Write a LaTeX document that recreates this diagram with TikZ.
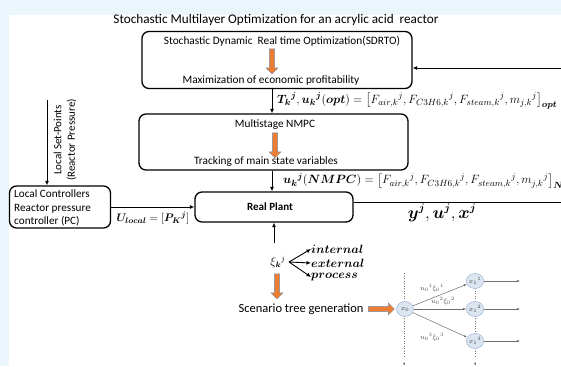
\documentclass[tikz,border=0pt]{standalone}
\usepackage{fontspec}
\setmainfont{Carlito}
\usepackage{amsmath,bm}
\usetikzlibrary{arrows.meta,shapes.arrows,shapes.geometric}
\definecolor{bandblue}{HTML}{EAF6FC}
\definecolor{orangefill}{HTML}{ED7D31}
\definecolor{orangeedge}{HTML}{7590B0}
\definecolor{nodefill}{HTML}{DCE6F1}
\definecolor{nodeedge}{HTML}{A9BDD4}
\definecolor{treegray}{HTML}{707070}
\tikzset{
  rbox/.style={draw, rounded corners=7pt, line width=1.3pt, inner sep=0pt},
  boxtext/.style={font=\fontsize{11.3}{13}\selectfont, inner sep=0pt},
  conn/.style={line width=0.9pt, -{Latex[length=4.5pt,width=4pt]}},
  downarrow/.style={single arrow, rotate=-90, fill=orangefill, draw=orangeedge, line width=0.4pt,
    minimum height=25pt, minimum width=12pt, inner sep=2.2pt, single arrow head extend=3pt},
  rightarrow/.style={single arrow, fill=orangefill, draw=orangeedge, line width=0.4pt,
    minimum height=26pt, minimum width=12pt, inner sep=2.2pt, single arrow head extend=3pt},
  state/.style={ellipse, draw=nodeedge, fill=nodefill, line width=0.6pt, minimum width=17pt,
    minimum height=15pt, inner sep=0pt, font=\fontsize{7.5}{8}\selectfont, text=black!80},
  treeedge/.style={draw=treegray, line width=0.5pt, -{Latex[length=3pt,width=2.5pt]}},
  treedots/.style={draw=treegray, line width=0.5pt, dotted},
  branchlbl/.style={font=\fontsize{7.5}{8}\selectfont, text=black!70, inner sep=0pt},
  mathlbl/.style={font=\fontsize{13}{15}\selectfont, inner sep=0pt},
}
\begin{document}
\begin{tikzpicture}[x=1pt,y=-1pt]
\useasboundingbox (0,0) rectangle (561,366);
\clip (0,0) rectangle (561,366);
\fill[bandblue] (0,0) rectangle (561,366);
\fill[white] (9,15) rectangle (561,366);

% title
\node[font=\fontsize{13.2}{15}\selectfont, inner sep=0pt] (title) at (276,20)
  {Stochastic Multilayer Optimization for an acrylic acid\ \ reactor};

% SDRTO layer
\node[rbox, minimum width=270pt, minimum height=57pt] (sdrto) at (277,60) {};
\node[boxtext] (sdrtoT) at (282,41) {Stochastic Dynamic\ \ Real time Optimization(SDRTO)};
\node[downarrow] (sdrtoA) at (272,60) {};
\node[boxtext] (sdrtoB) at (271,80) {Maximization of economic profitability};
\coordinate (fbIn) at (561,68);
\draw[conn] (fbIn) -- (sdrto.east |- fbIn);

% NMPC layer
\node[rbox, minimum width=269pt, minimum height=56pt] (nmpc) at (273.5,142) {};
\node[boxtext] (nmpcT) at (275,125) {Multistage NMPC};
\node[downarrow] (nmpcA) at (275,144) {};
\node[boxtext] (nmpcB) at (266,162) {Tracking of main state variables};
\draw[conn] (sdrtoA |- sdrto.south) -- (sdrtoA |- nmpc.north);
\node[mathlbl, anchor=west] (optLbl) at (277,101)
  {$\bm{T_k}{}^{\bm j},\bm{u_k}{}^{\bm j}(\bm{opt}) = \big[F_{air,k}{}^{j},F_{C3H6,k}{}^{j},F_{steam,k}{}^{j},m_{j,k}{}^{j}\big]_{\bm{opt}}$};

% plant
\node[rbox, minimum width=158pt, minimum height=30pt] (rp) at (274,207) {};
\node[font=\bfseries\fontsize{11}{13}\selectfont, inner sep=0pt] (rpT) at (270,207) {Real Plant};
\draw[conn] (sdrtoA |- nmpc.south) -- (sdrtoA |- rp.north);
\node[mathlbl, anchor=west] (nmpcLbl) at (283,181)
  {$\bm{u_k}{}^{\bm j}(\bm{NMPC}) = \big[F_{air,k}{}^{j},F_{C3H6,k}{}^{j},F_{steam,k}{}^{j},m_{j,k}{}^{j}\big]_{\bm{NMPC}}$};
\coordinate (fbOut) at (561,202);
\draw[line width=0.9pt] (rp.east |- fbOut) -- (fbOut);
\node[font=\fontsize{16}{18}\selectfont, inner sep=0pt] (yLbl) at (442,213) {$\bm{y^j},\bm{u^j},\bm{x^j}$};

% local controllers
\node[rbox, minimum width=101pt, minimum height=42pt] (lc) at (60,207) {};
\node[font=\fontsize{11.2}{13.5}\selectfont, align=left, anchor=west, inner sep=0pt] (lcT) at (14,208)
  {Local Controllers\\Reactor pressure\\controller (PC)};
\coordinate (spTop) at (47,100);
\draw[conn] (spTop) -- (spTop |- lc.north);
\node[font=\fontsize{11}{13.5}\selectfont, align=center, rotate=90, inner sep=0pt] (spT) at (65,140)
  {Local Set-Points\\(Reactor Pressure)};
\draw[conn] (lc.east) -- (rp.west);
\node[font=\fontsize{11}{13}\selectfont, inner sep=0pt] (uLocal) at (153,218)
  {$\bm{U_{local}} = [\bm{P_K}{}^{\bm j}]$};

% uncertainties
\coordinate (upFoot) at (274,243);
\draw[conn] (upFoot) -- (upFoot |- rp.south);
\node[font=\fontsize{12}{14}\selectfont, inner sep=0pt] (xi) at (278,262) {$\xi_{\bm k}{}^{j}$};
\coordinate (fork) at (289,262);
\node[font=\fontsize{13}{15}\selectfont, anchor=west, inner sep=0pt] (intl) at (311,249) {$\bm{internal}$};
\node[font=\fontsize{13}{15}\selectfont, anchor=west, inner sep=0pt] (extl) at (311,263) {$\bm{external}$};
\node[font=\fontsize{13}{15}\selectfont, anchor=west, inner sep=0pt] (proc) at (311,277) {$\bm{process}$};
\draw[conn] (fork) -- (intl.west);
\draw[conn] (fork) -- (extl.west);
\draw[conn] (fork) -- (proc.west);
\node[downarrow] (xiA) at (277,285) {};
\node[font=\fontsize{12.5}{14}\selectfont, inner sep=0pt] (scen) at (301,309) {Scenario tree generation};
\node[rightarrow] (scenA) at (380,309) {};

% scenario tree
\draw[treedots] (404,273) -- (404,358);
\draw[treedots] (475,273) -- (475,358);
\draw[treegray, line width=0.5pt, -{Latex[length=2pt,width=2pt]}] (404,365) -- (404,362);
\draw[treegray, line width=0.5pt, -{Latex[length=2pt,width=2pt]}] (475,365) -- (475,362);
\node[state] (x0) at (405,309) {$x_0$};
\node[state] (x11) at (475,281) {$x_1{}^1$};
\node[state] (x12) at (475,309) {$x_1{}^2$};
\node[state] (x13) at (475,341) {$x_1{}^3$};
\draw[treeedge] (x0) -- (x11);
\draw[treeedge] (x0) -- (x12);
\draw[treeedge] (x0) -- (x13);
\coordinate (o1) at (520,281);
\coordinate (o2) at (520,309);
\coordinate (o3) at (520,341);
\draw[treeedge] (x11) -- (o1);
\draw[treeedge] (x12) -- (o2);
\draw[treeedge] (x13) -- (o3);
\node[branchlbl] (b1) at (432,288) {$u_0{}^1\xi_0{}^1$};
\node[branchlbl] (b2) at (443,301) {$u_0{}^2\xi_0{}^2$};
\node[branchlbl] (b3) at (432,337) {$u_0{}^3\xi_0{}^3$};
\end{tikzpicture}
\end{document}
